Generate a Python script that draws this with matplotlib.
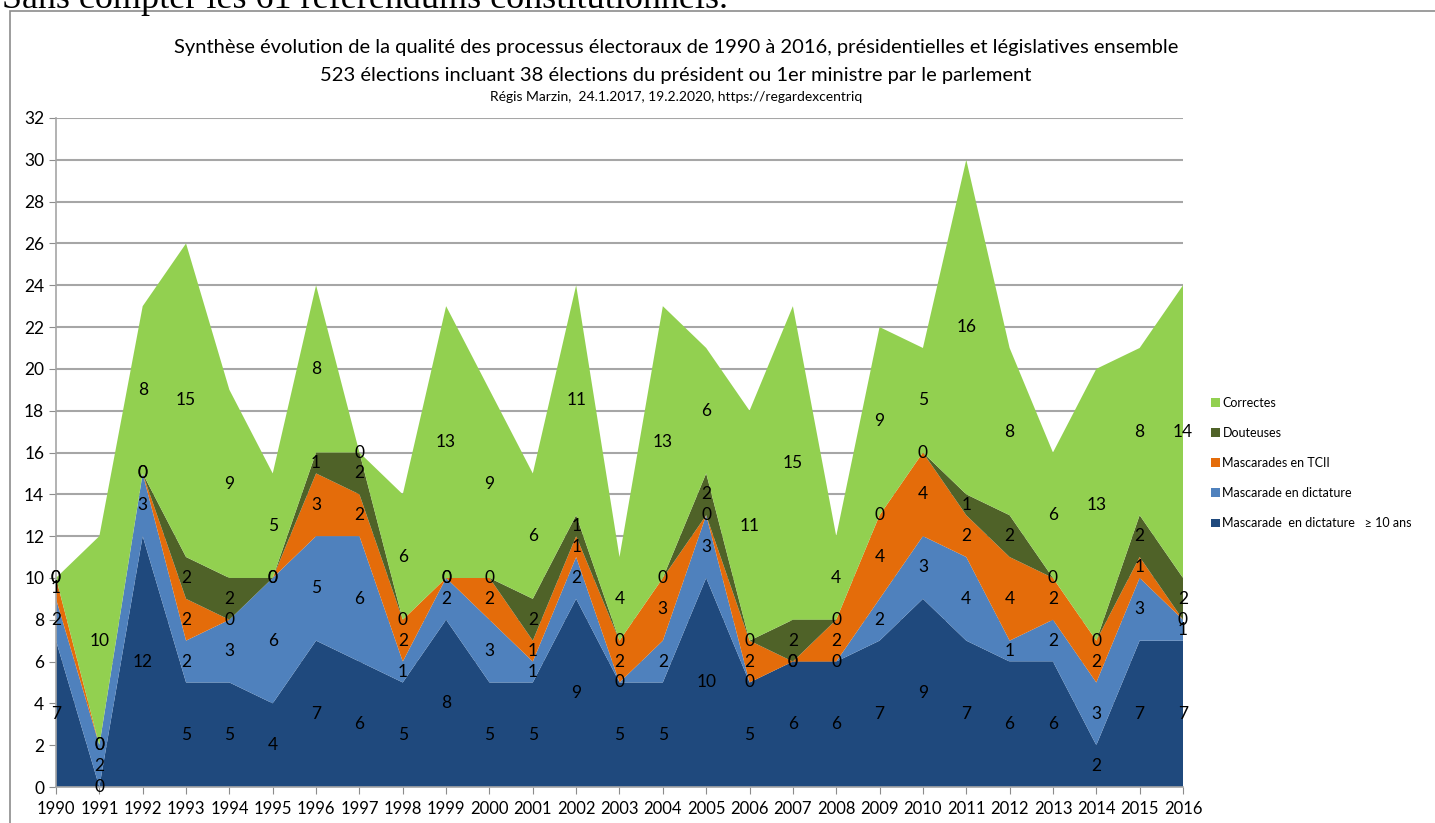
import numpy as np
import matplotlib.pyplot as plt
from matplotlib.patches import Rectangle

# Data
years = list(range(1990, 2017))
dict_10ans = [7, 0, 12, 5, 5, 4, 7, 6, 5, 8, 5, 5, 9, 5, 5, 10, 5, 6, 6, 7, 9, 7, 6, 6, 2, 7, 7]
dictature = [2, 2, 3, 2, 3, 6, 5, 6, 1, 2, 3, 1, 2, 0, 2, 3, 0, 0, 0, 2, 3, 4, 1, 2, 3, 3, 1]
tcii = [1, 0, 0, 2, 0, 0, 3, 2, 2, 0, 2, 1, 1, 2, 3, 0, 2, 0, 2, 4, 4, 2, 4, 2, 2, 1, 0]
douteuses = [0, 0, 0, 2, 2, 0, 1, 2, 0, 0, 0, 2, 1, 0, 0, 2, 0, 2, 0, 0, 0, 1, 2, 0, 0, 2, 2]
correctes = [0, 10, 8, 15, 9, 5, 8, 0, 6, 13, 9, 6, 11, 4, 13, 6, 11, 15, 4, 9, 5, 16, 8, 6, 13, 8, 14]

series = [dict_10ans, dictature, tcii, douteuses, correctes]
names = ["Mascarade  en dictature   \u2265 10 ans", "Mascarade en dictature",
         "Mascarades en TCII", "Douteuses", "Correctes"]
colors = ["#1F497D", "#4F81BD", "#E46C0A", "#4F6228", "#92D050"]

plt.rcParams['font.family'] = ['Lato', 'DejaVu Sans']

fig = plt.figure(figsize=(14.35, 8.23), dpi=100)
W, H = 1435, 823

# frame of the embedded chart
fig.patches.append(Rectangle((10 / W, -0.01), 1.0, 1 - 11 / H + 0.01, transform=fig.transFigure,
                             fill=False, edgecolor="#8c8c8c", linewidth=1.2))
fig.text(2 / W, 1 - 8 / H, "Sans compter les 61 référendums constitutionnels.",
         family="Liberation Serif", fontsize=26, va="baseline", ha="left")

ax = fig.add_axes([56 / W, 36 / H, (1183 - 56) / W, (787 - 118) / H])
polys = ax.stackplot(years, *series, colors=colors, labels=names, linewidth=0)

# data labels in the middle of each band
base = np.zeros(len(years))
for vals in series:
    v = np.array(vals)
    for x, b, val in zip(years, base, v):
        ax.text(x, b + val / 2, str(val), ha="center", va="center", fontsize=12.5)
    base = base + v

ax.set_xlim(1990, 2016)
ax.set_ylim(0, 32)
ax.set_yticks(range(0, 33, 2))
ax.set_xticks(years)
ax.tick_params(axis="both", labelsize=12, color="#8c8c8c", length=5)
ax.tick_params(axis="y", labelsize=12.5)
ax.tick_params(axis="x", pad=5)
ax.grid(axis="y", color="#a6a6a6", linewidth=1.5)
ax.set_axisbelow(True)
for s in ["top", "right"]:
    ax.spines[s].set_visible(False)
for s in ["left", "bottom"]:
    ax.spines[s].set_color("#a6a6a6")
    ax.spines[s].set_linewidth(1.2)

fig.text(0.471, 1 - 48 / H, "Synthèse évolution de la qualité des processus électoraux de 1990 à 2016, présidentielles et législatives ensemble",
         ha="center", va="center", fontsize=14.5)
fig.text(0.471, 1 - 75 / H, "523 élections incluant 38 élections du président ou 1er ministre par le parlement",
         ha="center", va="center", fontsize=14.5)
fig.text(0.471, 1 - 97 / H, "Régis Marzin,  24.1.2017, 19.2.2020, https://regardexcentriq",
         ha="center", va="center", fontsize=10)

handles, labels = ax.get_legend_handles_labels()
fig.legend(handles[::-1], labels[::-1], loc="center left", bbox_to_anchor=(1200 / W, 1 - 463 / H),
           frameon=False, fontsize=9, handlelength=0.7, handleheight=0.7, handletextpad=0.2,
           labelspacing=1.45)

fig.savefig("out.png", dpi=100)
